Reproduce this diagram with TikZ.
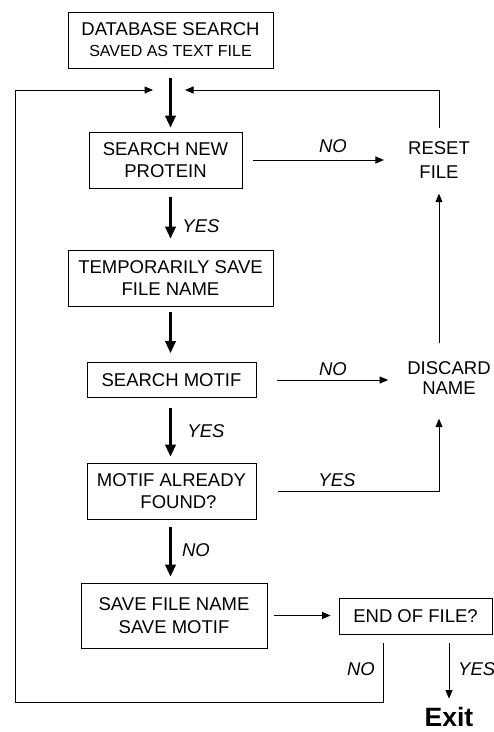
\documentclass[tikz,border=0pt]{standalone}
\usepackage{fontspec}
\setmainfont{Liberation Sans}
\usetikzlibrary{arrows.meta}
\begin{document}
\begin{tikzpicture}[x=1pt,y=-1pt,
  box/.style={draw, line width=0.9pt, inner sep=0pt, align=center, font=\fontsize{18.5}{22}\selectfont},
  txt/.style={inner sep=0pt, align=center, font=\fontsize{18.5}{22}\selectfont},
  lab/.style={inner sep=0pt, font=\fontsize{18.5}{22}\selectfont\itshape},
  thick arrow/.style={line width=2.3pt, -{Triangle[width=10.5pt,length=12pt]}},
  thin arrow/.style={line width=1pt, -{Triangle[width=7pt,length=8.5pt]}},
  thin line/.style={line width=1pt}]
\useasboundingbox (0,0) rectangle (494,732);
% boxes
\node[box, minimum width=205pt, minimum height=56pt] (b1) at (170.5,40) {DATABASE SEARCH\\[-1pt]{\fontsize{16}{20}\selectfont SAVED AS TEXT FILE}};
\node[box, minimum width=153pt, minimum height=56pt] (b2) at (165.5,160) {SEARCH NEW\\PROTEIN};
\node[box, minimum width=205pt, minimum height=56pt] (b3) at (170.5,278) {TEMPORARILY SAVE\\FILE NAME};
\node[box, minimum width=169pt, minimum height=35pt] (b4) at (171.5,380) {SEARCH MOTIF};
\node[box, minimum width=169pt, minimum height=56pt] (b5) at (171.5,491) {MOTIF ALREADY\\\hspace*{14pt}FOUND?};
\node[box, minimum width=186pt, minimum height=65pt] (b6) at (174,615.5) {SAVE FILE NAME\\[1pt]SAVE MOTIF};
\node[box, minimum width=153pt, minimum height=36pt] (b7) at (415.5,616) {END OF FILE?};
\node[txt] (reset) at (439,160) {RESET\\[2pt]FILE};
\node[txt] (discard) at (449,378) {DISCARD\\[-2pt]NAME};
\node[inner sep=0pt, font=\fontsize{26.5}{30}\selectfont\bfseries] (exit) at (449,717.5) {Exit};
% junction coordinates
\coordinate (jL) at (153,90);
\coordinate (jR) at (185,90);
\coordinate (corner) at (15,702);
% main column
\draw[thick arrow, shorten <=10pt, shorten >=4pt] (b1.south) -- (b1.south |- b2.north);
\draw[thick arrow, shorten <=9pt, shorten >=11pt] (b1.south |- b2.south) -- (b1.south |- b3.north);
\draw[thick arrow, shorten <=6pt, shorten >=9pt] (b3.south) -- (b3.south |- b4.north);
\draw[thick arrow, shorten <=10pt, shorten >=6pt] (b3.south |- b4.south) -- (b3.south |- b5.north);
\draw[thick arrow, shorten <=8pt, shorten >=6pt] (b3.south |- b5.south) -- (b3.south |- b6.north);
\node[lab] (y1) at (201,226) {YES};
\node[lab] (y2) at (206,431) {YES};
\node[lab] (n1) at (196,550) {NO};
% right side
\draw[thin arrow, shorten <=11pt, shorten >=24pt] (b2.east) -- (b2.east -| reset.west);
\node[lab] (n2) at (333,146) {NO};
\draw[thin arrow, shorten <=21pt, shorten >=19pt] (b4.east) -- (b4.east -| discard.west);
\node[lab] (n3) at (333,369) {NO};
\draw[thin arrow, shorten <=22pt, shorten >=24pt] (b5.east) -| (discard.south -| reset.south);
\node[lab] (y3) at (337,480) {YES};
\draw[thin arrow, shorten <=18pt, shorten >=15pt] (discard.north -| reset.south) -- (reset.south);
\draw[thin arrow, shorten <=13.5pt] (reset.north) |- (jR);
% bottom
\draw[thin arrow, shorten <=7pt, shorten >=8pt] (b6.east) -- (b6.east -| b7.west);
\draw[thin arrow, shorten <=9pt] ([xshift=-32.5pt]b7.south) |- (corner) |- (jL);
\node[lab] (n4) at (361,669) {NO};
\draw[thin arrow, shorten <=9pt, shorten >=9pt] ([xshift=33.5pt]b7.south) -- ([xshift=33.5pt]b7.south |- exit.north);
\node[lab, anchor=west] (y4) at (458,669) {YES};
\end{tikzpicture}
\end{document}
